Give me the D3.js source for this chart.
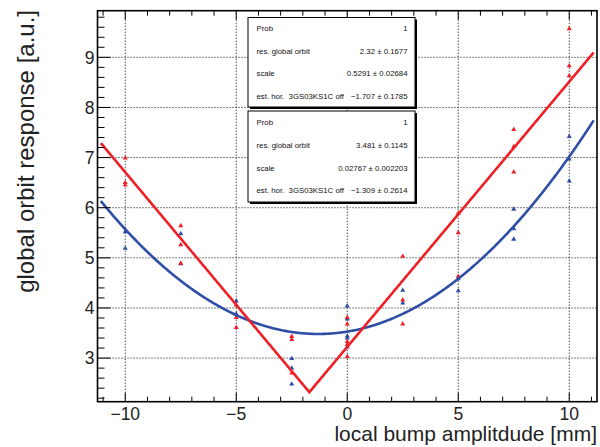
<!DOCTYPE html>
<html>
<head>
<meta charset="utf-8">
<script src="https://cdn.jsdelivr.net/npm/d3@7"></script>
<style>
  body { margin: 0; background: #fff; }
  text { font-family: "Liberation Sans", Arial, Helvetica, sans-serif; white-space: pre; }
</style>
</head>
<body>
<svg id="chart" width="600" height="447"></svg>
<script>
// Axis ticks
const xMajorTicks = [-10, -5, 0, 5, 10];
const yMajorTicks = [3, 4, 5, 6, 7, 8, 9];

// Measured responses: bump amplitude [mm] and response [a.u.]
const redX  = [-10, -10, -10, -7.5, -7.5, -7.5, -5, -5, -5, -2.5, -2.5, -2.5,
               0, 0, 0, 0, 0, 2.5, 2.5, 2.5, 5, 5, 5, 7.5, 7.5, 7.5, 10, 10, 10];
const redY  = [6.99, 6.50, 6.45, 5.64, 5.26, 4.89, 4.06, 3.81, 3.61, 3.43, 3.37, 2.70,
               3.81, 3.68, 3.33, 3.27, 3.03, 5.03, 4.16, 3.68, 5.89, 5.50, 4.63,
               7.56, 7.22, 6.71, 9.57, 8.83, 8.63];
const blueX = [-10, -10, -7.5, -7.5, -5, -5, -2.5, -2.5, -2.5, 0, 0, 0, 0, 0,
               2.5, 2.5, 5, 5, 7.5, 7.5, 7.5, 10, 10, 10];
const blueY = [5.52, 5.19, 5.48, 4.88, 4.14, 3.88, 2.99, 2.80, 2.48, 4.04, 3.78, 3.44, 3.40, 3.22,
               4.35, 4.10, 4.58, 4.34, 5.97, 5.58, 5.37, 7.42, 6.97, 6.53];

// Fit results: [resolution, scale, offset] with errors
const redFit      = [2.32, 0.5291, -1.707];
const redFitErr   = ["0.1677", "0.02684", "0.1785"];
const blueFit     = [3.481, 0.02767, -1.309];
const blueFitErr  = ["0.1145", "0.002203", "0.2614"];
const statNames   = ["Prob", "res. global orbit", "scale", "est. hor.  3GS03KS1C off"];

const RED = "#ee1f26", BLUE = "#2f4fa6";

const svg = d3.select("#chart");
const frame = { left: 97.5, right: 597, top: 10.7, bottom: 401.7 };

const x = d3.scaleLinear().domain([-11.25, 11.25]).range([frame.left, frame.right]);
const y = d3.scaleLinear().domain([2.13, 9.93]).range([frame.bottom, frame.top]);

// Dotted grid at major ticks
const grid = svg.append("g").attr("stroke", "#000").attr("stroke-width", 1)
  .attr("stroke-dasharray", "1,2");
xMajorTicks.forEach(t => grid.append("line")
  .attr("x1", x(t)).attr("x2", x(t)).attr("y1", frame.top).attr("y2", frame.bottom));
yMajorTicks.forEach(t => grid.append("line")
  .attr("x1", frame.left).attr("x2", frame.right).attr("y1", y(t)).attr("y2", y(t)));

// Markers
const tri = d3.symbol().type(d3.symbolTriangle).size(11);
function drawPoints(xs, ys, color) {
  svg.append("g").selectAll("path").data(xs.map((v, i) => [v, ys[i]])).join("path")
    .attr("d", tri)
    .attr("transform", d => `translate(${x(d[0])},${y(d[1])})`)
    .attr("fill", color);
}
drawPoints(blueX, blueY, BLUE);
drawPoints(redX, redY, RED);

// Fit curves
const xs = d3.range(-11.1, 11.1001, 0.05);
const redModel  = v => redFit[0] + redFit[1] * Math.abs(v - redFit[2]);
const blueModel = v => blueFit[0] + blueFit[1] * (v - blueFit[2]) ** 2;
const redXs = xs.concat([redFit[2]]).sort((a, b) => a - b);
const line = d3.line().x(d => x(d[0])).y(d => y(d[1]));
svg.append("path").attr("d", line(xs.map(v => [v, blueModel(v)])))
  .attr("fill", "none").attr("stroke", BLUE).attr("stroke-width", 2.6);
svg.append("path").attr("d", line(redXs.map(v => [v, redModel(v)])))
  .attr("fill", "none").attr("stroke", RED).attr("stroke-width", 2.6);

// Frame with ticks
const axes = svg.append("g").attr("stroke", "#000");
const xMinor = d3.range(-11, 11.001, 1);
xMinor.forEach(t => {
  const major = xMajorTicks.includes(t);
  const len = major ? 9 : 5;
  axes.append("line").attr("x1", x(t)).attr("x2", x(t))
    .attr("y1", frame.bottom).attr("y2", frame.bottom - len).attr("stroke-width", 1);
  axes.append("line").attr("x1", x(t)).attr("x2", x(t))
    .attr("y1", frame.top).attr("y2", frame.top + len).attr("stroke-width", 1);
});
const yMinor = d3.range(2.2, 9.9, 0.2).map(v => Math.round(v * 10) / 10);
yMinor.forEach(t => {
  const major = yMajorTicks.includes(t);
  const len = major ? 13 : 7;
  axes.append("line").attr("x1", frame.left).attr("x2", frame.left + len)
    .attr("y1", y(t)).attr("y2", y(t)).attr("stroke-width", 1);
});
svg.append("rect").attr("x", frame.left).attr("y", frame.top)
  .attr("width", frame.right - frame.left).attr("height", frame.bottom - frame.top)
  .attr("fill", "none").attr("stroke", "#000").attr("stroke-width", 1.6);

// Tick labels
const fmt = v => (v < 0 ? "\u2212" + Math.abs(v) : String(v));
svg.append("g").selectAll("text").data(xMajorTicks).join("text")
  .attr("x", d => x(d)).attr("y", 419.5).attr("text-anchor", "middle")
  .attr("font-size", 17.5).attr("fill", "#222").text(fmt);
svg.append("g").selectAll("text").data(yMajorTicks).join("text")
  .attr("x", 94.5).attr("y", d => y(d) + 6.2).attr("text-anchor", "end")
  .attr("font-size", 17.5).attr("fill", "#222").text(fmt);

// Axis titles
svg.append("text").attr("x", frame.right).attr("y", 441).attr("text-anchor", "end")
  .attr("font-size", 21).attr("fill", "#222").text("local bump amplitdude [mm]");
svg.append("text").attr("transform", "translate(33.5,10) rotate(-90)")
  .attr("text-anchor", "end").attr("font-size", 24).attr("fill", "#222")
  .text("global orbit response [a.u.]");

// Fit statistics boxes
function statBox(top, height, fit, err) {
  const left = 248, width = 167;
  const g = svg.append("g");
  g.append("rect").attr("x", left + 2).attr("y", top + 2).attr("width", width).attr("height", height)
    .attr("fill", "#000");
  g.append("rect").attr("x", left).attr("y", top).attr("width", width).attr("height", height)
    .attr("fill", "#fff").attr("stroke", "#000").attr("stroke-width", 1);
  const vals = ["1"].concat(fit.map((v, i) => (v < 0 ? "\u2212" + Math.abs(v) : v) + " \u00b1 " + err[i]));
  statNames.forEach((name, i) => {
    const cy = top + height * (0.125 + 0.25 * i) + 2.8;
    g.append("text").attr("x", left + 8.5).attr("y", cy).attr("font-size", 7.8)
      .attr("fill", "#111").text(name);
    g.append("text").attr("x", left + width - 7.5).attr("y", cy).attr("text-anchor", "end")
      .attr("font-size", 7.8).attr("fill", "#111").text(vals[i]);
  });
}
statBox(17.5, 89.5, redFit, redFitErr);
statBox(111, 91, blueFit, blueFitErr);
</script>
</body>
</html>
